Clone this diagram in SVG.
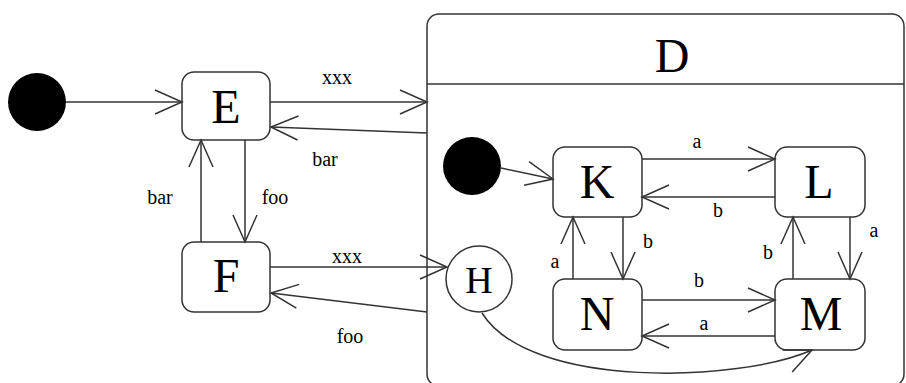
<svg xmlns="http://www.w3.org/2000/svg" width="906" height="383" viewBox="0 0 906 383">
<defs>
<marker id="arr" markerUnits="userSpaceOnUse" viewBox="-30 -15 32 30" refX="0" refY="0" markerWidth="32" markerHeight="30" orient="auto">
<path d="M-27,-12 L0,0 L-27,12" fill="none" stroke="#333" stroke-width="1.5"/>
</marker>
<style>
.st{fill:#fff;stroke:#333;stroke-width:1.5}
.big{font-family:"Liberation Serif",serif;font-size:48px;text-anchor:middle;fill:#000}
.lbl{font-family:"Liberation Serif",serif;font-size:20px;text-anchor:middle;fill:#000}
.c{fill:none;stroke:#333;stroke-width:1.5;marker-end:url(#arr)}
</style>
</defs>
<rect width="906" height="383" fill="#fff"/>
<g id="D">
<rect class="st" x="427" y="14" width="477" height="372" rx="12"/>
<line x1="427" y1="84" x2="904" y2="84" stroke="#333" stroke-width="1.5"/>
<text class="big" x="672" y="72">D</text>
</g>
<g id="init1"><circle cx="37" cy="102" r="29" fill="#000"/></g>
<g id="init2"><circle cx="472" cy="166" r="29" fill="#000"/></g>
<g id="E"><rect class="st" x="182" y="72" width="88" height="68" rx="12"/><text class="big" x="226" y="123">E</text></g>
<g id="F"><rect class="st" x="182" y="242" width="88" height="70" rx="12"/><text class="big" x="226" y="292">F</text></g>
<g id="H"><circle class="st" cx="479" cy="279" r="33"/><text class="big" style="font-size:38px" x="479" y="293">H</text></g>
<g id="K"><rect class="st" x="553" y="147" width="89" height="70" rx="12"/><text class="big" x="597" y="198">K</text></g>
<g id="L"><rect class="st" x="775" y="147" width="90" height="70" rx="12"/><text class="big" x="819" y="198">L</text></g>
<g id="N"><rect class="st" x="553" y="279" width="89" height="71" rx="12"/><text class="big" x="597" y="330">N</text></g>
<g id="M"><rect class="st" x="775" y="279" width="90" height="71" rx="12"/><text class="big" x="821" y="330">M</text></g>
<g id="connectors">
<line class="c" x1="66" y1="102" x2="182" y2="102"/>
<line class="c" x1="270" y1="102" x2="427" y2="102"/>
<line class="c" x1="427" y1="133" x2="271" y2="127"/>
<line class="c" x1="245" y1="140" x2="245" y2="242"/>
<line class="c" x1="201" y1="242" x2="201" y2="140"/>
<line class="c" x1="270" y1="267" x2="447" y2="267"/>
<line class="c" x1="427" y1="312" x2="271" y2="293"/>
<line class="c" x1="501" y1="168" x2="553" y2="179"/>
<line class="c" x1="642" y1="159" x2="775" y2="159"/>
<line class="c" x1="775" y1="197" x2="642" y2="197"/>
<line class="c" x1="623" y1="217" x2="623" y2="279"/>
<line class="c" x1="573" y1="279" x2="573" y2="217"/>
<line class="c" x1="850" y1="217" x2="850" y2="279"/>
<line class="c" x1="793" y1="279" x2="793" y2="217"/>
<line class="c" x1="642" y1="300" x2="775" y2="300"/>
<line class="c" x1="775" y1="336" x2="642" y2="336"/>
<path class="c" d="M482,313 C530,390 740,382 812,350"/>
<text class="lbl" x="337" y="84">xxx</text>
<text class="lbl" x="325" y="166">bar</text>
<text class="lbl" x="160" y="204">bar</text>
<text class="lbl" x="275" y="204">foo</text>
<text class="lbl" x="347" y="263">xxx</text>
<text class="lbl" x="350" y="343">foo</text>
<text class="lbl" x="697" y="148">a</text>
<text class="lbl" x="718" y="217">b</text>
<text class="lbl" x="648" y="248">b</text>
<text class="lbl" x="555" y="268">a</text>
<text class="lbl" x="768" y="259">b</text>
<text class="lbl" x="874" y="237">a</text>
<text class="lbl" x="699" y="287">b</text>
<text class="lbl" x="704" y="330">a</text>
</g>
</svg>
